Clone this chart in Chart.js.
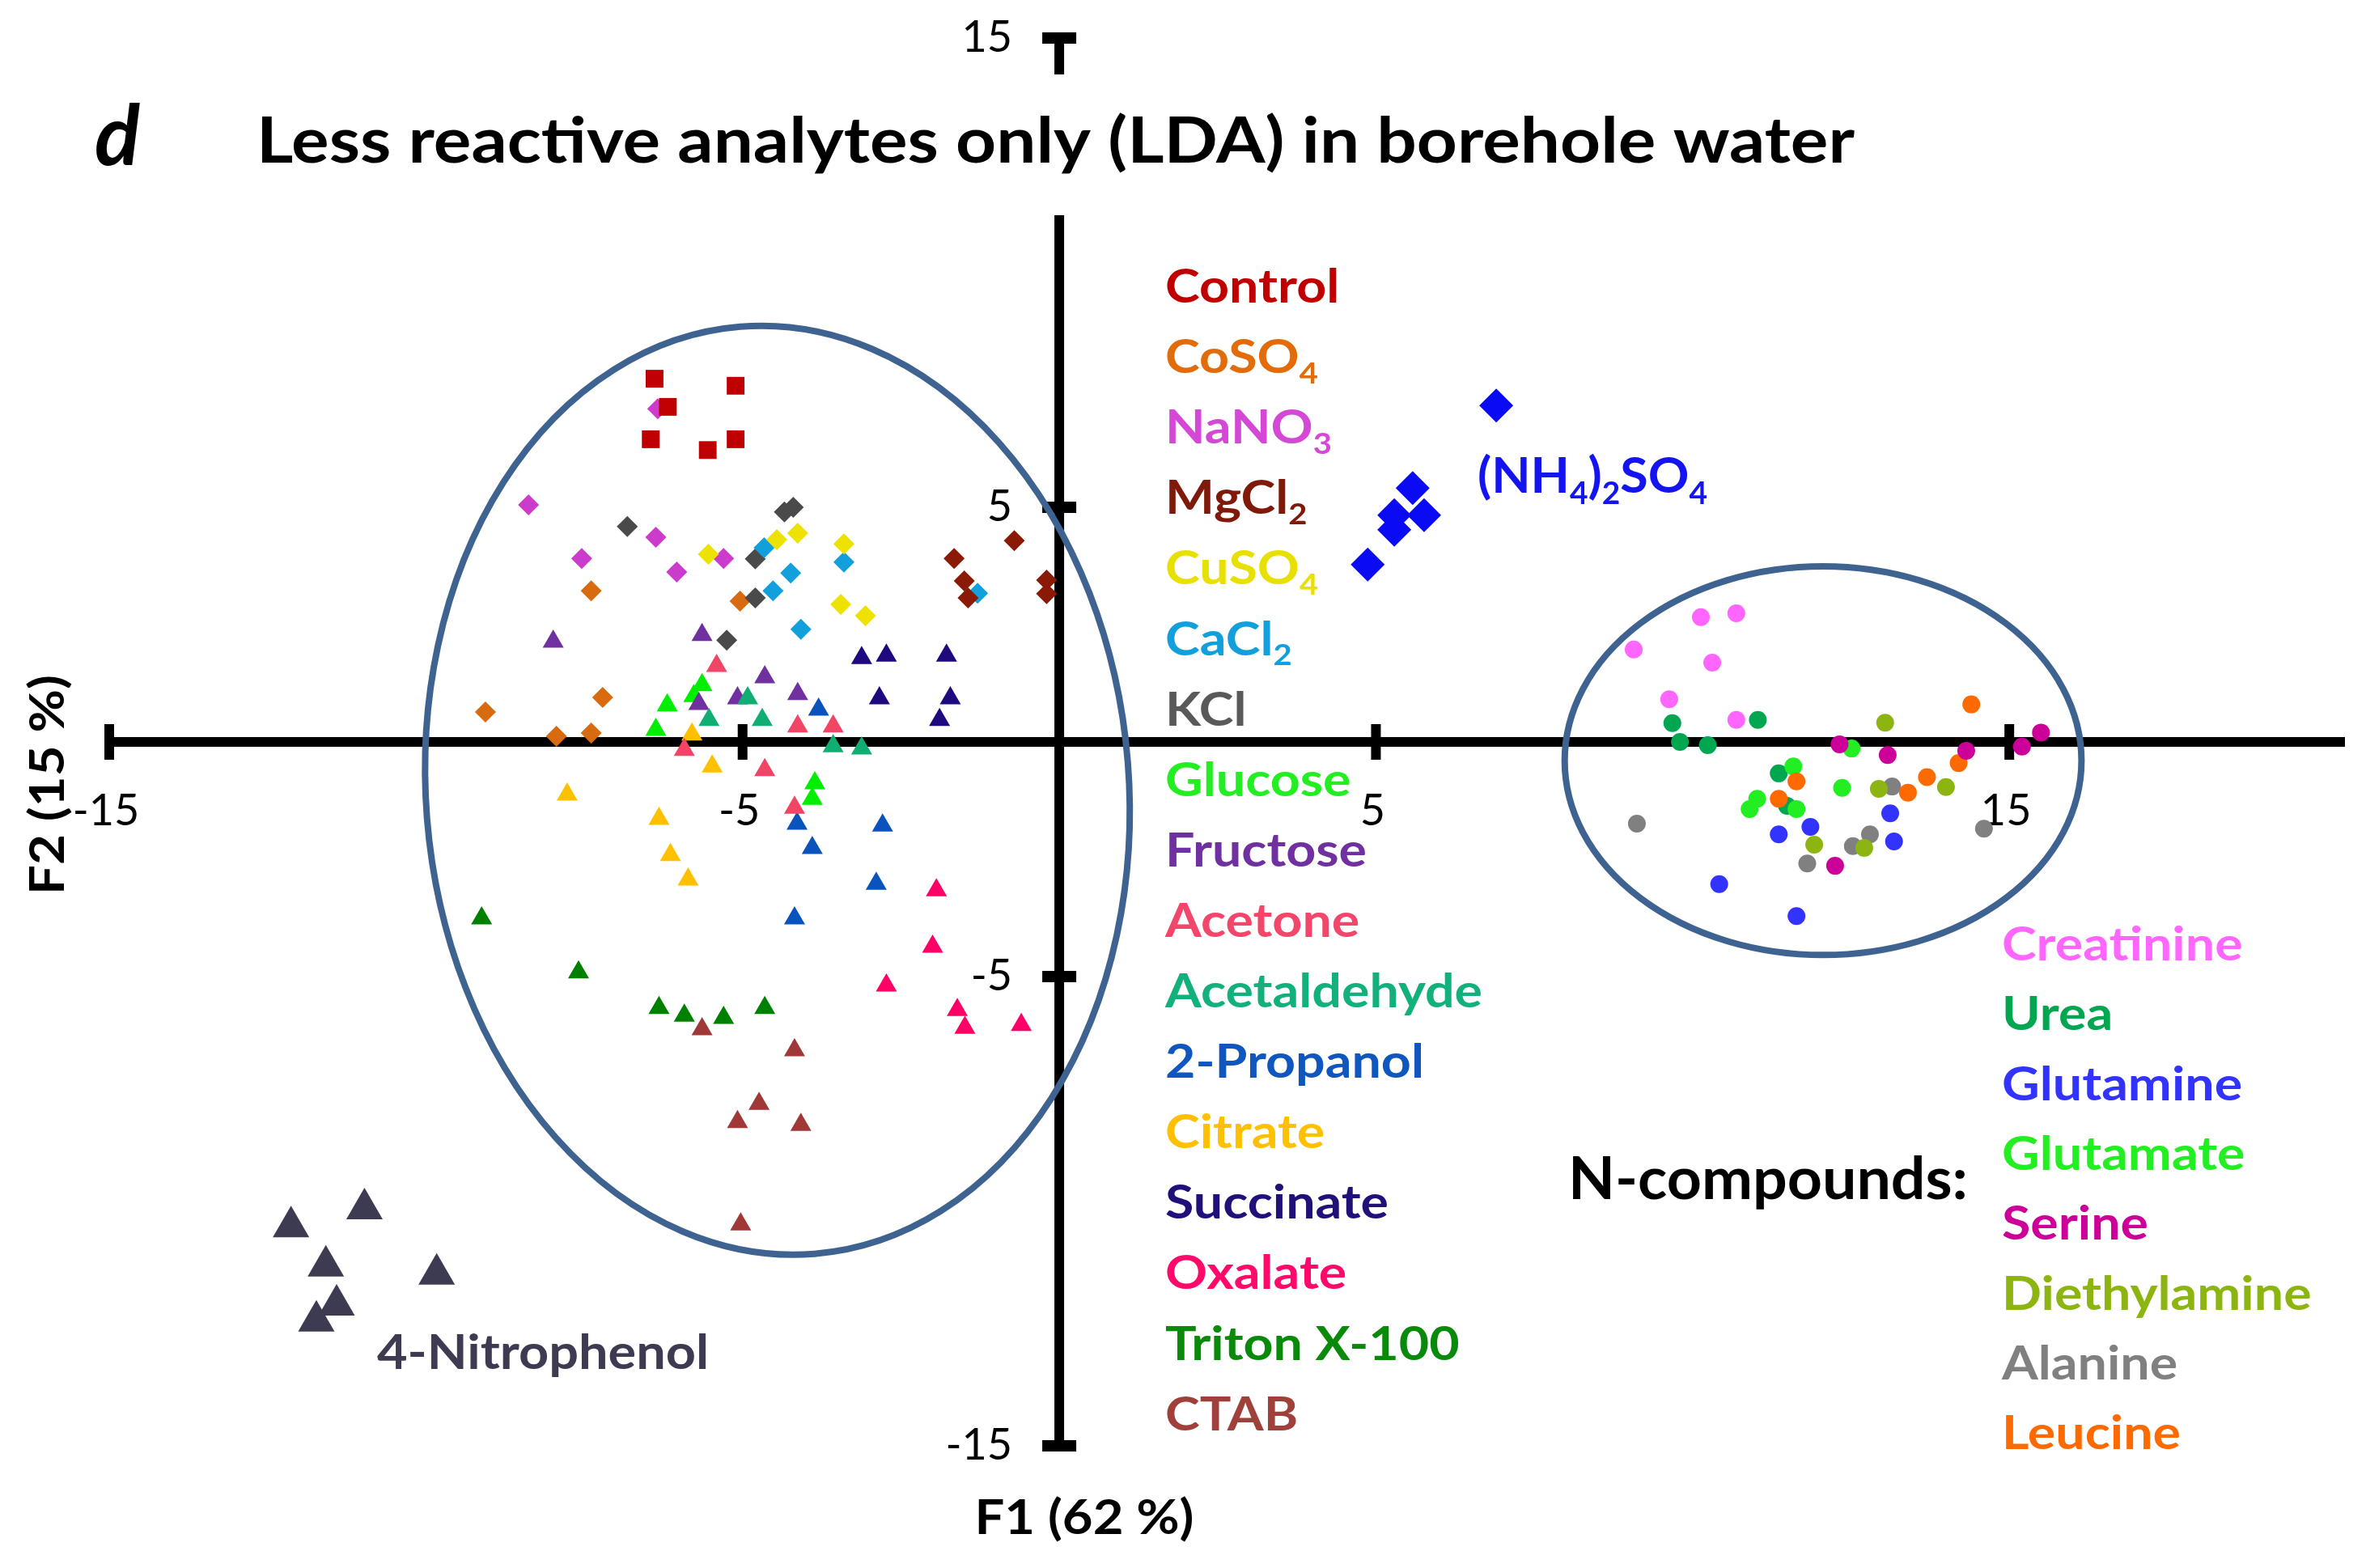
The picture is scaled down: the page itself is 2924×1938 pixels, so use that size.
<!DOCTYPE html>
<html lang="en">
<head>
<meta charset="UTF-8">
<title>Less reactive analytes only (LDA) in borehole water</title>
<style>
  html, body { margin: 0; padding: 0; background: #fff; }
  #chart { display: block; }
</style>
</head>
<body>
<canvas id="chart" width="2924" height="1938"></canvas>
<script src="https://cdn.jsdelivr.net/npm/chart.js"></script>
<script>
// LDA scores [F1, F2]
const control      = [[-6.39, 7.74], [-5.11, 7.59], [-6.18, 7.14], [-6.45, 6.45], [-5.11, 6.45], [-5.55, 6.22]];
const coso4        = [[-5.04, 3.00], [-7.39, 3.22], [-7.21, 0.95], [-9.06, 0.64], [-7.94, 0.12], [-7.39, 0.19]];
const nano3        = [[-6.34, 7.10], [-8.38, 5.05], [-6.37, 4.36], [-7.54, 3.91], [-5.30, 3.91], [-6.04, 3.62]];
const mgcl2        = [[-0.71, 4.29], [-1.66, 3.91], [-1.50, 3.43], [-1.44, 3.07], [-0.20, 3.45], [-0.20, 3.16]];
const cuso4        = [[-5.54, 4.00], [-4.46, 4.31], [-4.13, 4.45], [-3.40, 4.22], [-3.45, 2.93], [-3.06, 2.69]];
const cacl2        = [[-4.66, 4.14], [-4.24, 3.60], [-4.52, 3.22], [-3.40, 3.83], [-4.08, 2.40], [-1.29, 3.17]];
const kcl          = [[-6.82, 4.59], [-4.34, 4.90], [-4.20, 5.00], [-4.80, 3.90], [-4.80, 3.07], [-5.25, 2.17]];
const glucose      = [[-6.19, 0.78], [-6.37, 0.26], [-5.64, 1.21], [-5.77, 0.98], [-3.86, -0.88], [-3.90, -1.21]];
const fructose     = [[-7.99, 2.14], [-5.64, 2.28], [-5.69, 0.81], [-4.65, 1.38], [-5.08, 0.93], [-4.13, 1.02]];
const acetone      = [[-5.41, 1.62], [-5.92, -0.17], [-4.65, -0.60], [-4.13, 0.33], [-3.57, 0.33], [-4.18, -1.40]];
const acetaldehyde = [[-5.53, 0.47], [-4.92, 0.93], [-4.69, 0.47], [-3.57, -0.09], [-3.12, -0.14]];
const propanol     = [[-3.80, 0.69], [-4.14, -1.74], [-3.90, -2.26], [-2.79, -1.78], [-2.89, -3.02], [-4.18, -3.76]];
const citrate      = [[-5.80, 0.16], [-5.48, -0.52], [-7.77, -1.12], [-6.32, -1.64], [-6.14, -2.41], [-5.86, -2.93]];
const succinate    = [[-3.12, 1.79], [-2.73, 1.84], [-1.78, 1.84], [-2.84, 0.93], [-1.72, 0.93], [-1.89, 0.47]];
const oxalate      = [[-1.94, -3.16], [-2.00, -4.36], [-2.73, -5.19], [-1.61, -5.71], [-1.49, -6.09], [-0.60, -6.03]];
const triton       = [[-9.12, -3.76], [-7.59, -4.91], [-6.32, -5.67], [-5.92, -5.83], [-5.30, -5.88], [-4.65, -5.67]];
const ctab         = [[-5.64, -6.12], [-4.18, -6.57], [-4.74, -7.71], [-5.08, -8.10], [-4.08, -8.16], [-5.03, -10.28]];
const nitrophenol  = [[-10.97, -9.95], [-12.13, -10.33], [-11.58, -11.17], [-9.83, -11.34], [-11.41, -12.00], [-11.73, -12.34]];
const ammonium     = [[6.90, 7.17], [5.58, 5.41], [5.29, 4.83], [5.76, 4.83], [5.29, 4.52], [4.87, 3.78]];
const creatinine   = [[10.13, 2.66], [10.69, 2.74], [9.07, 1.97], [10.31, 1.69], [9.63, 0.91], [10.69, 0.47]];
const urea         = [[9.68, 0.40], [9.80, 0.00], [10.24, -0.07], [11.03, 0.47], [11.36, -0.67], [11.49, -1.36]];
const glutamine    = [[11.36, -1.97], [11.86, -1.81], [10.42, -3.03], [11.64, -3.71], [13.12, -1.52], [13.18, -2.12]];
const glutamate    = [[11.59, -0.52], [11.02, -1.21], [10.90, -1.43], [11.64, -1.43], [12.36, -0.98], [12.51, -0.14]];
const serine       = [[12.32, -0.05], [13.08, -0.28], [14.32, -0.19], [15.20, -0.10], [15.50, 0.20], [12.25, -2.64]];
const diethylamine = [[13.04, 0.41], [12.94, -1.00], [14.00, -0.96], [11.92, -2.19], [12.71, -2.26]];
const alanine      = [[9.12, -1.74], [11.81, -2.59], [12.80, -1.97], [12.53, -2.22], [14.60, -1.85], [13.15, -0.95]];
const leucine      = [[11.64, -0.84], [11.36, -1.21], [14.40, 0.80], [14.20, -0.45], [13.70, -0.75], [13.40, -1.08]];

// axis ticks
const xTicks = [-15, -5, 5, 15];
const yTicks = [15, 5, -5, -15];

// group ellipses: centre, semi-axes (data units)
const ellipseLeft  = [-4.45, -1.03, 5.55, 9.91];
const ellipseRight = [12.06, -0.40, 4.08, 4.14];

// legend lists (underscore = subscript digit)
const leftNames  = ['Control', 'CoSO_4', 'NaNO_3', 'MgCl_2', 'CuSO_4', 'CaCl_2', 'KCl', 'Glucose', 'Fructose', 'Acetone',
                    'Acetaldehyde', '2-Propanol', 'Citrate', 'Succinate', 'Oxalate', 'Triton X-100', 'CTAB'];
const leftColors = ['#C00000', '#E36C0A', '#D548D5', '#7F1A0A', '#E8E000', '#12A0DC', '#595959', '#22EE22', '#7030A0', '#F2466A',
                    '#12B07C', '#0F56BE', '#FFC000', '#20107A', '#FF0A6A', '#0A8A0A', '#A0403A'];
const rightNames  = ['Creatinine', 'Urea', 'Glutamine', 'Glutamate', 'Serine', 'Diethylamine', 'Alanine', 'Leucine'];
const rightColors = ['#FF66FF', '#00A650', '#3333FF', '#22EE22', '#CC0099', '#8DB512', '#808080', '#FF6A00'];

const FONT = 'Lato, "Open Sans", sans-serif';

// series drawing order: first one ends on top
const series = [
  { name: 'Control', pts: control, color: '#C00000', shape: 'rect', r: 15.5 },
  { name: '(NH4)2SO4', pts: ammonium, color: '#0A0AF5', shape: 'rectRot', r: 21 },
  { name: '4-Nitrophenol', pts: nitrophenol, color: '#3D3B52', shape: 'triangle', r: 26 },
  { name: 'CuSO4', pts: cuso4, color: '#EDE200', shape: 'rectRot', r: 13 },
  { name: 'MgCl2', pts: mgcl2, color: '#8A1A06', shape: 'rectRot', r: 13 },
  { name: 'CaCl2', pts: cacl2, color: '#12A0DC', shape: 'rectRot', r: 13 },
  { name: 'KCl', pts: kcl, color: '#4A4A4A', shape: 'rectRot', r: 13 },
  { name: 'NaNO3', pts: nano3, color: '#CC3CCC', shape: 'rectRot', r: 13 },
  { name: 'CoSO4', pts: coso4, color: '#D86A10', shape: 'rectRot', r: 13 },
  { name: 'Acetaldehyde', pts: acetaldehyde, color: '#10AE72', shape: 'triangle', r: 15 },
  { name: 'Fructose', pts: fructose, color: '#7030A0', shape: 'triangle', r: 15 },
  { name: 'Glucose', pts: glucose, color: '#00EE00', shape: 'triangle', r: 15 },
  { name: 'Acetone', pts: acetone, color: '#F04565', shape: 'triangle', r: 15 },
  { name: '2-Propanol', pts: propanol, color: '#0A52BC', shape: 'triangle', r: 15 },
  { name: 'Citrate', pts: citrate, color: '#FFC000', shape: 'triangle', r: 15 },
  { name: 'Succinate', pts: succinate, color: '#20087E', shape: 'triangle', r: 15 },
  { name: 'Oxalate', pts: oxalate, color: '#FF0066', shape: 'triangle', r: 15 },
  { name: 'Triton X-100', pts: triton, color: '#008000', shape: 'triangle', r: 15 },
  { name: 'CTAB', pts: ctab, color: '#A03838', shape: 'triangle', r: 15 },
  { name: 'Serine', pts: serine, color: '#CC0099', shape: 'circle', r: 11 },
  { name: 'Leucine', pts: leucine, color: '#FF6A00', shape: 'circle', r: 11 },
  { name: 'Glutamine', pts: glutamine, color: '#3333FF', shape: 'circle', r: 11 },
  { name: 'Glutamate', pts: glutamate, color: '#22EE22', shape: 'circle', r: 11 },
  { name: 'Urea', pts: urea, color: '#00A650', shape: 'circle', r: 11 },
  { name: 'Diethylamine', pts: diethylamine, color: '#8DB512', shape: 'circle', r: 11 },
  { name: 'Alanine', pts: alanine, color: '#808080', shape: 'circle', r: 11 },
  { name: 'Creatinine', pts: creatinine, color: '#FF66FF', shape: 'circle', r: 11 }
];

// split "CoSO_4" into [text, isSub] pieces
function pieces(str) {
  const out = [];
  let buf = '';
  for (let i = 0; i < str.length; i++) {
    if (str[i] === '_') {
      if (buf) out.push([buf, false]);
      buf = '';
      out.push([str[i + 1], true]);
      i++;
    } else {
      buf += str[i];
    }
  }
  if (buf) out.push([buf, false]);
  return out;
}

function labelWidth(ctx, str, size, weight) {
  let w = 0;
  pieces(str).forEach(p => {
    ctx.font = `${weight} ${p[1] ? size * 0.62 : size}px ${FONT}`;
    w += ctx.measureText(p[0]).width;
  });
  return w;
}

function drawLabel(ctx, str, x, y, o) {
  const size = o.size, weight = o.weight || 'bold';
  const w = labelWidth(ctx, str, size, weight);
  ctx.save();
  ctx.translate(x, y);
  if (o.rotate) ctx.rotate(o.rotate);
  ctx.scale(o.sx || 1, 1);
  let cx = o.align === 'center' ? -w / 2 : (o.align === 'right' ? -w : 0);
  ctx.fillStyle = o.color || '#000';
  ctx.textAlign = 'left';
  ctx.textBaseline = 'alphabetic';
  pieces(str).forEach(p => {
    ctx.font = `${weight} ${p[1] ? size * 0.62 : size}px ${FONT}`;
    ctx.fillText(p[0], cx, p[1] ? size * 0.22 : 0);
    cx += ctx.measureText(p[0]).width;
  });
  ctx.restore();
}

// horizontal squeeze so a reference string gets its measured width
function fitX(ctx, str, size, weight, target) {
  return target / labelWidth(ctx, str, size, weight);
}

const axesPlugin = {
  id: 'axes',
  beforeDatasetsDraw(chart) {
    const { ctx, scales: { x, y } } = chart;
    const x0 = x.getPixelForValue(0), y0 = y.getPixelForValue(0);
    ctx.save();
    ctx.fillStyle = '#000';
    const xl = x.getPixelForValue(-15), xr = x.getPixelForValue(x.max);
    ctx.fillRect(xl, y0 - 6, xr - xl, 12);
    const yt = y.getPixelForValue(15), yb = y.getPixelForValue(-15);
    ctx.fillRect(x0 - 6, yt, 12, yb - yt);
    xTicks.forEach(v => ctx.fillRect(x.getPixelForValue(v) - 6, y0 - 22, 12, 44));
    yTicks.forEach(v => ctx.fillRect(x0 - 21, y.getPixelForValue(v) - 7, 42, 14));

    // tick labels
    ctx.fillStyle = '#000';
    ctx.font = `54px ${FONT}`;
    ctx.textBaseline = 'middle';
    ctx.textAlign = 'center';
    xTicks.forEach(v => ctx.fillText(String(v), x.getPixelForValue(v) - 4, y0 + 86));
    ctx.textAlign = 'right';
    yTicks.forEach(v => ctx.fillText(String(v), x0 - 58, y.getPixelForValue(v)));

    // group ellipses
    ctx.strokeStyle = '#3E6390';
    ctx.lineWidth = 8;
    [[ellipseLeft, -0.08], [ellipseRight, 0]].forEach(([e, rot]) => {
      const cx = x.getPixelForValue(e[0]), cy = y.getPixelForValue(e[1]);
      const rx = Math.abs(x.getPixelForValue(e[0] + e[2]) - cx);
      const ry = Math.abs(y.getPixelForValue(e[1] + e[3]) - cy);
      ctx.beginPath();
      ctx.ellipse(cx, cy, rx, ry, rot, 0, Math.PI * 2);
      ctx.stroke();
    });
    ctx.restore();
  },
  afterDatasetsDraw(chart) {
    const { ctx } = chart;
    ctx.save();
    // title sits on a white band that breaks the y axis
    ctx.fillStyle = '#fff';
    ctx.fillRect(100, 92, 2240, 174);
    drawLabel(ctx, 'd', 117, 204, { size: 104, weight: 'italic bold' });
    const tSize = 78;
    const tText = 'Less reactive analytes only (LDA) in borehole water';
    drawLabel(ctx, tText, 317, 201, { size: tSize, sx: fitX(ctx, tText, tSize, 'bold', 1975) });

    // legend columns
    const lSize = 57;
    const lsx = fitX(ctx, 'Acetaldehyde', lSize, 'bold', 392);
    leftNames.forEach((n, i) => drawLabel(ctx, n, 1440, 374 + i * 87.1, { size: lSize, sx: lsx, color: leftColors[i] }));
    rightNames.forEach((n, i) => drawLabel(ctx, n, 2474, 1187 + i * 86.3, { size: lSize, sx: lsx, color: rightColors[i] }));

    const nSize = 73;
    drawLabel(ctx, 'N-compounds:', 1938, 1482, { size: nSize, sx: fitX(ctx, 'N-compounds:', nSize, 'bold', 494) });
    drawLabel(ctx, '(NH_4)_2SO_4', 1826, 609, { size: 62, sx: fitX(ctx, '(NH_4)_2SO_4', 62, 'bold', 284), color: '#1414F0' });
    drawLabel(ctx, '4-Nitrophenol', 466, 1692, { size: 60, sx: fitX(ctx, '4-Nitrophenol', 60, 'bold', 410), color: '#3D3B52' });

    // axis titles
    const aSize = 60;
    drawLabel(ctx, 'F1 (62 %)', 1340, 1896, { size: aSize, align: 'center', sx: fitX(ctx, 'F1 (62 %)', aSize, 'bold', 271) });
    drawLabel(ctx, 'F2 (15 %)', 79, 970, { size: aSize, align: 'center', rotate: -Math.PI / 2, sx: fitX(ctx, 'F2 (15 %)', aSize, 'bold', 272) });
    ctx.restore();
  }
};

new Chart(document.getElementById('chart'), {
  type: 'scatter',
  data: {
    datasets: series.map(s => ({
      label: s.name,
      data: s.pts.map(p => ({ x: p[0], y: p[1] })),
      pointStyle: s.shape,
      pointRadius: s.r,
      pointHoverRadius: s.r,
      backgroundColor: s.color,
      borderColor: s.color,
      borderWidth: 0,
      clip: false
    }))
  },
  options: {
    responsive: false,
    animation: false,
    devicePixelRatio: 1,
    events: [],
    layout: { padding: { left: 135, right: 18, top: 47, bottom: 151 } },
    scales: {
      x: { type: 'linear', min: -15, max: 20.3, display: false },
      y: { type: 'linear', min: -15, max: 15, display: false }
    },
    plugins: {
      legend: { display: false },
      tooltip: { enabled: false }
    }
  },
  plugins: [axesPlugin]
});
</script>
</body>
</html>
